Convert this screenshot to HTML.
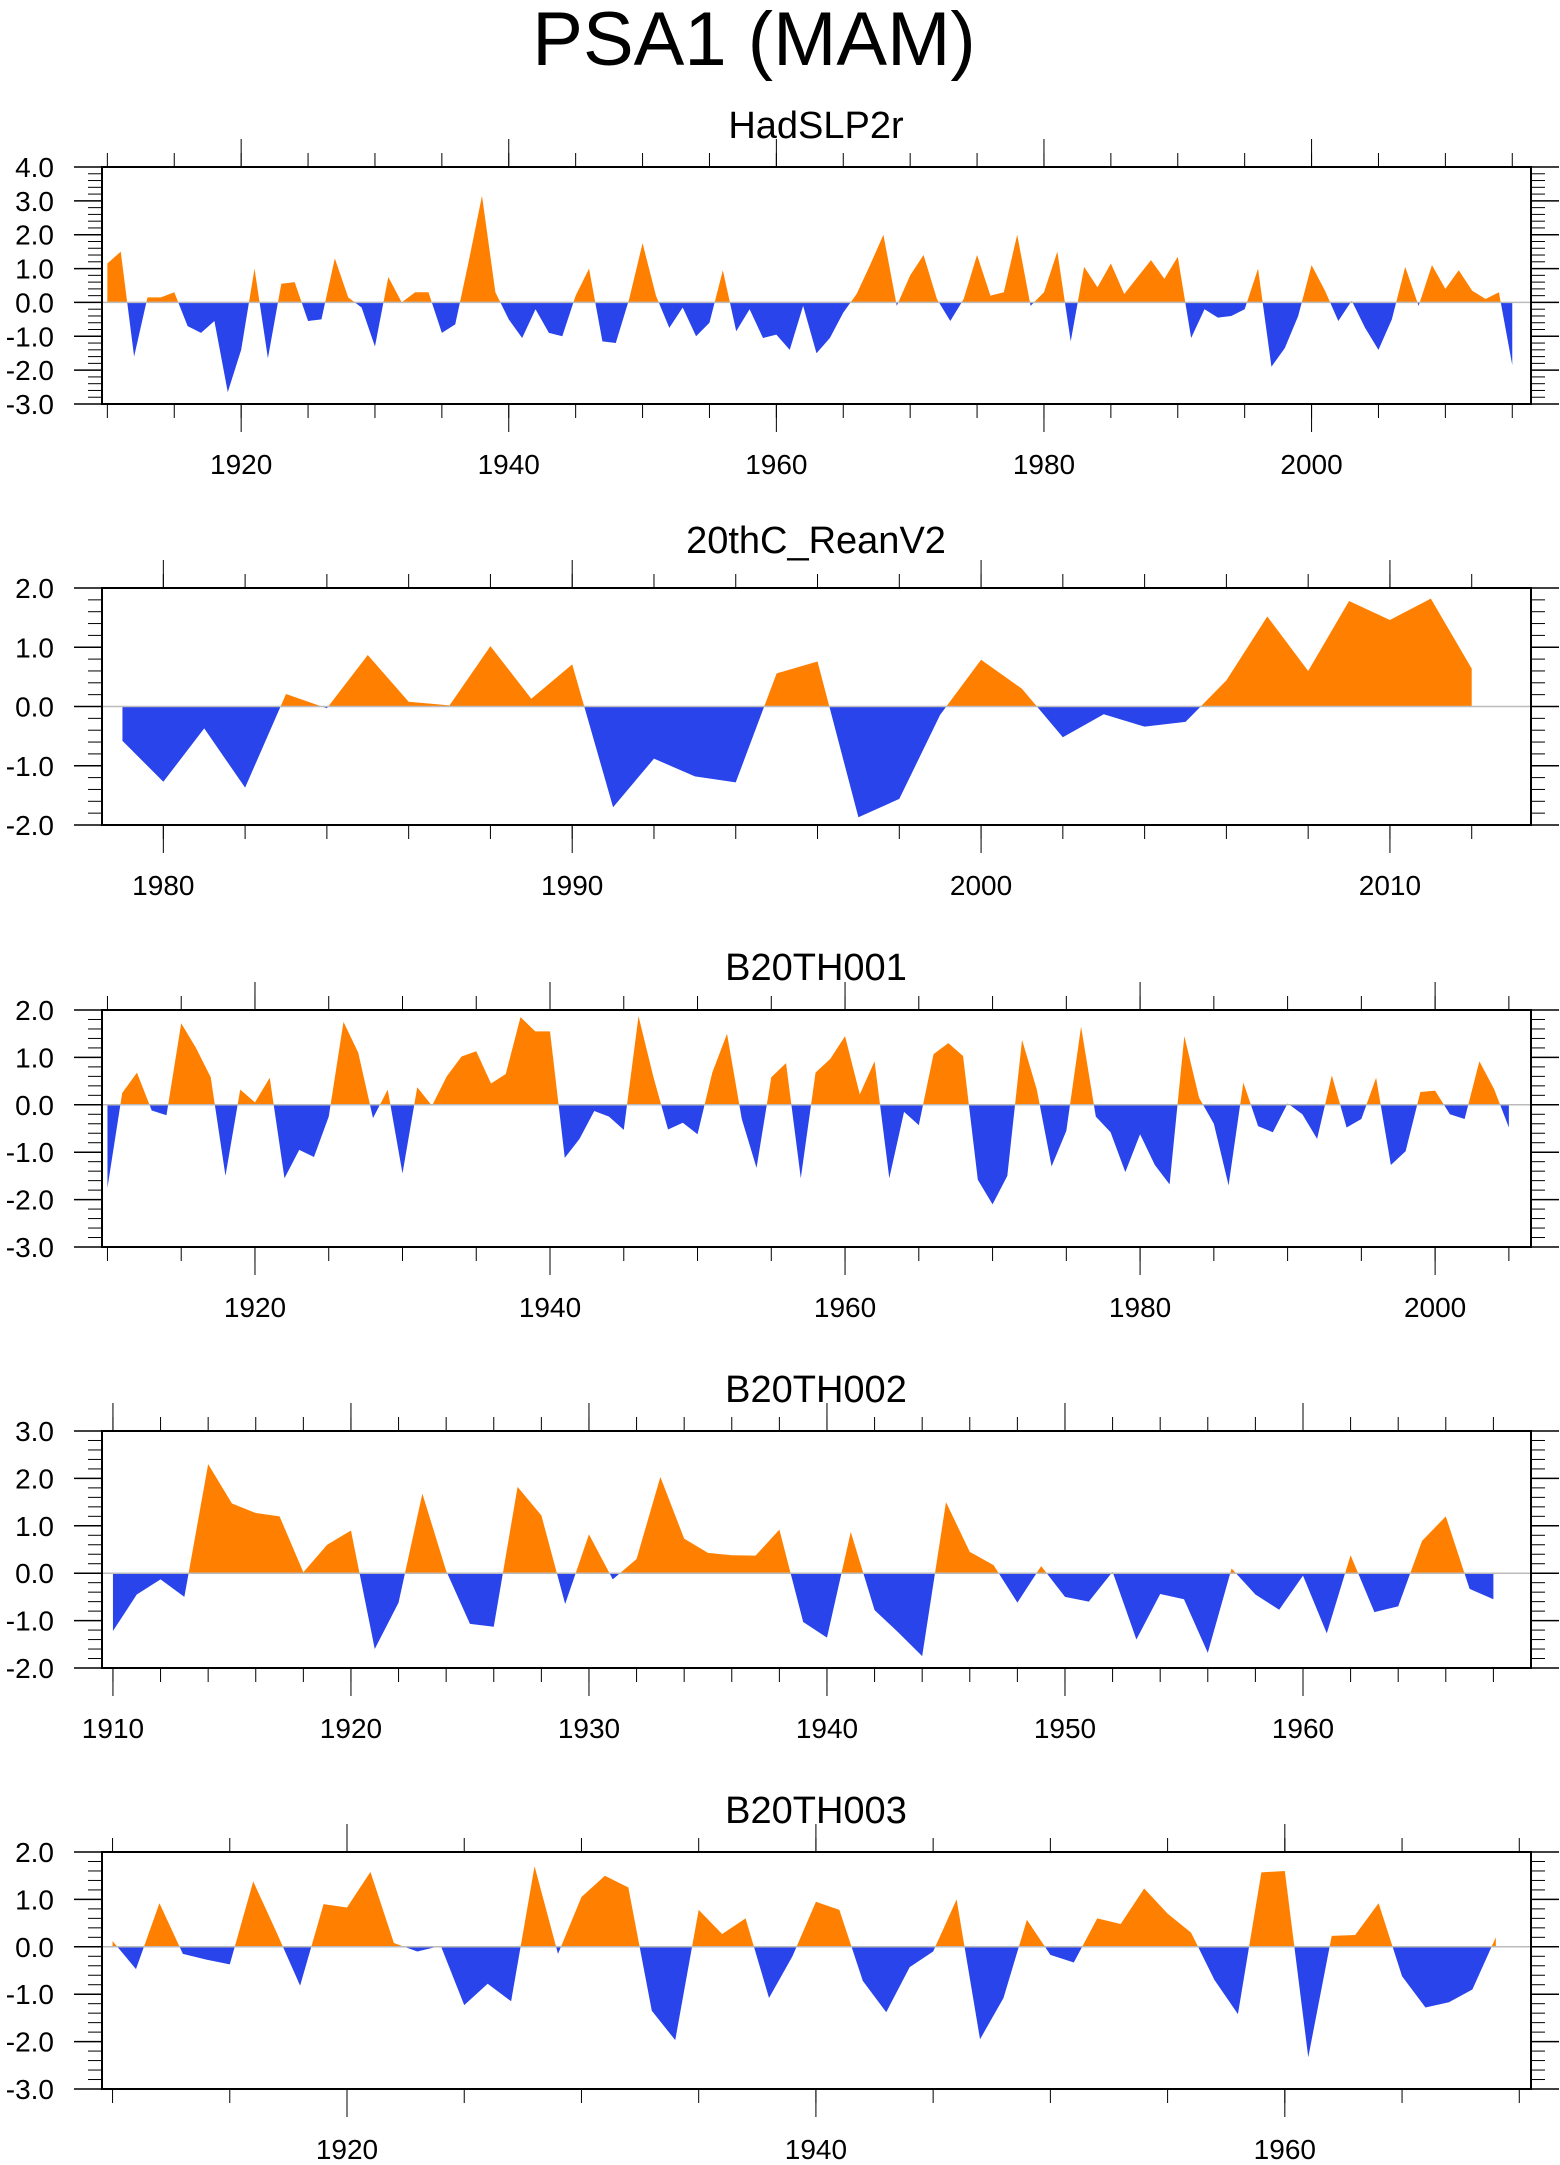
<!DOCTYPE html>
<html><head><meta charset="utf-8"><style>
html,body{margin:0;padding:0;background:#fff;}
svg{display:block;font-family:"Liberation Sans",Arial,sans-serif;}
</style></head><body>
<svg id="chart" width="1560" height="2165" viewBox="0 0 1560 2165" xmlns="http://www.w3.org/2000/svg">
<rect width="1560" height="2165" fill="#fff"/>
<text x="754" y="65" font-size="76" text-anchor="middle">PSA1 (MAM)</text>
</svg>
<script>
const had_years_start = 1910;
const had_vals = [1.15,1.5,-1.6,0.15,0.15,0.3,-0.7,-0.9,-0.55,-2.65,-1.4,1.0,-1.65,0.55,0.6,-0.55,-0.5,1.3,0.15,-0.15,-1.3,0.75,0.0,0.3,0.3,-0.9,-0.65,1.2,3.15,0.3,-0.5,-1.05,-0.2,-0.9,-1.0,0.2,1.0,-1.15,-1.2,0.1,1.75,0.2,-0.75,-0.15,-1.0,-0.6,0.95,-0.85,-0.2,-1.05,-0.95,-1.4,-0.1,-1.5,-1.05,-0.3,0.25,1.1,2.0,-0.1,0.8,1.4,0.1,-0.55,0.1,1.4,0.2,0.3,2.0,-0.1,0.3,1.5,-1.15,1.05,0.45,1.15,0.25,0.75,1.25,0.7,1.35,-1.05,-0.2,-0.45,-0.4,-0.2,1.0,-1.9,-1.35,-0.4,1.1,0.35,-0.55,0.05,-0.75,-1.4,-0.5,1.05,-0.1,1.1,0.4,0.95,0.35,0.1,0.3,-1.85];
const rean_years_start = 1979;
const rean_vals = [-0.58,-1.27,-0.37,-1.37,0.21,-0.03,0.87,0.08,0.02,1.02,0.13,0.71,-1.7,-0.88,-1.18,-1.28,0.56,0.76,-1.87,-1.56,-0.14,0.79,0.3,-0.52,-0.13,-0.34,-0.26,0.44,1.52,0.6,1.78,1.46,1.82,0.64];
const b1_years_start = 1910;
const b1_vals = [-1.75,0.25,0.68,-0.12,-0.22,1.72,1.2,0.58,-1.5,0.32,0.05,0.57,-1.55,-0.95,-1.1,-0.25,1.75,1.1,-0.28,0.32,-1.45,0.37,-0.02,0.6,1.02,1.13,0.45,0.65,1.85,1.55,1.55,-1.12,-0.72,-0.13,-0.25,-0.53,1.87,0.6,-0.52,-0.38,-0.62,0.68,1.5,-0.3,-1.33,0.58,0.88,-1.55,0.68,0.97,1.45,0.22,0.92,-1.55,-0.15,-0.43,1.07,1.3,1.03,-1.58,-2.1,-1.5,1.37,0.32,-1.3,-0.55,1.65,-0.25,-0.58,-1.42,-0.62,-1.27,-1.68,1.45,0.15,-0.4,-1.7,0.47,-0.45,-0.58,0.03,-0.2,-0.72,0.62,-0.48,-0.3,0.57,-1.27,-0.98,0.27,0.3,-0.2,-0.3,0.92,0.33,-0.48];
const b2_years_start = 1910;
const b2_vals = [-1.22,-0.45,-0.13,-0.5,2.3,1.47,1.27,1.2,0.02,0.6,0.9,-1.6,-0.62,1.68,0.05,-1.07,-1.13,1.82,1.22,-0.65,0.82,-0.13,0.3,2.03,0.73,0.43,0.38,0.37,0.92,-1.03,-1.36,0.87,-0.78,-1.25,-1.75,1.5,0.45,0.17,-0.62,0.15,-0.5,-0.6,0.03,-1.4,-0.44,-0.55,-1.68,0.1,-0.45,-0.77,-0.05,-1.27,0.38,-0.82,-0.7,0.68,1.2,-0.33,-0.55];
const b3_years_start = 1910;
const b3_vals = [0.12,-0.47,0.92,-0.15,-0.27,-0.37,1.38,0.3,-0.82,0.9,0.83,1.58,0.08,-0.1,0.02,-1.23,-0.78,-1.15,1.7,-0.15,1.05,1.5,1.25,-1.35,-1.97,0.78,0.27,0.6,-1.08,-0.2,0.95,0.78,-0.72,-1.38,-0.43,-0.1,1.0,-1.95,-1.08,0.57,-0.17,-0.33,0.6,0.48,1.23,0.7,0.3,-0.7,-1.42,1.57,1.6,-2.33,0.23,0.25,0.92,-0.62,-1.28,-1.17,-0.9,0.2];

const svg = document.getElementById('chart');
const NS = 'http://www.w3.org/2000/svg';
function mk(tag, attrs){const e=document.createElementNS(NS,tag);for(const k in attrs)e.setAttribute(k,attrs[k]);return e;}

const panels = [
 {name:'hadslp2r',title:'HadSLP2r',start:had_years_start,vals:had_vals,top:167,bot:404,titleY:138,x0:1909.6,x1:2016.4,ymin:-3,ymax:4,major:[1920,1940,1960,1980,2000],minorStep:5,minorFrom:1910,minorTo:2015},
 {name:'20thc-reanv2',title:'20thC_ReanV2',start:rean_years_start,vals:rean_vals,top:588,bot:825,titleY:553,x0:1978.5,x1:2013.45,ymin:-2,ymax:2,major:[1980,1990,2000,2010],minorStep:2,minorFrom:1980,minorTo:2012},
 {name:'b20th001',title:'B20TH001',start:b1_years_start,vals:b1_vals,top:1010,bot:1247,titleY:980,x0:1909.63,x1:2006.5,ymin:-3,ymax:2,major:[1920,1940,1960,1980,2000],minorStep:5,minorFrom:1910,minorTo:2005},
 {name:'b20th002',title:'B20TH002',start:b2_years_start,vals:b2_vals,top:1431,bot:1668,titleY:1402,x0:1909.54,x1:1969.58,ymin:-2,ymax:3,major:[1910,1920,1930,1940,1950,1960],minorStep:2,minorFrom:1910,minorTo:1968},
 {name:'b20th003',title:'B20TH003',start:b3_years_start,vals:b3_vals,top:1852,bot:2089,titleY:1823,x0:1909.55,x1:1970.5,ymin:-3,ymax:2,major:[1920,1940,1960],minorStep:5,minorFrom:1910,minorTo:1970}
];
const L=102,R=1531;
panels.forEach((p,pi)=>{
  const g=mk('g',{});
  
  
  svg.appendChild(g);
  const xs=y=>L+(y-p.x0)/(p.x1-p.x0)*(R-L);
  const ys=v=>p.bot-(v-p.ymin)/(p.ymax-p.ymin)*(p.bot-p.top);
  const t=mk('text',{x:816,y:p.titleY,'font-size':38,'text-anchor':'middle'});
  t.textContent=p.title;
  
  
  g.appendChild(t);
  const y0=ys(0);
  let pts=`${xs(p.start)},${y0} `;
  p.vals.forEach((v,i)=>{pts+=`${xs(p.start+i)},${ys(v)} `;});
  pts+=`${xs(p.start+p.vals.length-1)},${y0}`;
  const defs=mk('defs',{});
  const cu=mk('clipPath',{id:'cu'+pi});cu.appendChild(mk('rect',{x:L,y:p.top,width:R-L,height:y0-p.top}));
  const cd=mk('clipPath',{id:'cd'+pi});cd.appendChild(mk('rect',{x:L,y:y0,width:R-L,height:p.bot-y0}));
  defs.appendChild(cu);defs.appendChild(cd);g.appendChild(defs);
  const pos=mk('polygon',{points:pts,fill:'#ff8000','clip-path':`url(#cu${pi})`});
  
  
  g.appendChild(pos);
  const neg=mk('polygon',{points:pts,fill:'#2a44ec','clip-path':`url(#cd${pi})`});
  
  
  g.appendChild(neg);
  const zl=mk('line',{x1:L,x2:R,y1:y0,y2:y0,stroke:'#bbb','stroke-width':1.5});
  
  
  g.appendChild(zl);
  const fr=mk('rect',{x:L,y:p.top,width:R-L,height:p.bot-p.top,fill:'none',stroke:'#000','stroke-width':2});
  
  
  g.appendChild(fr);
  for(let yr=p.minorFrom;yr<=p.minorTo+0.001;yr+=p.minorStep){
    const x=xs(yr);
    g.appendChild(mk('line',{x1:x,x2:x,y1:p.top,y2:p.top-14,stroke:'#000','stroke-width':1}));
    g.appendChild(mk('line',{x1:x,x2:x,y1:p.bot,y2:p.bot+14,stroke:'#000','stroke-width':1}));
  }
  p.major.forEach(yr=>{
    const x=xs(yr);
    g.appendChild(mk('line',{x1:x,x2:x,y1:p.top,y2:p.top-28,stroke:'#000','stroke-width':1}));
    g.appendChild(mk('line',{x1:x,x2:x,y1:p.bot,y2:p.bot+28,stroke:'#000','stroke-width':1}));
    const lb=mk('text',{x:x,y:p.bot+70,'font-size':28,'text-anchor':'middle'});
    lb.textContent=yr;
    
    
    g.appendChild(lb);
  });
  for(let k=0;k<=Math.round((p.ymax-p.ymin)*5);k++){
    const v=p.ymin+k*0.2, y=ys(v);
    const maj=(k%5===0);
    const len=maj?28:14;
    g.appendChild(mk('line',{x1:L-len,x2:L,y1:y,y2:y,stroke:'#000','stroke-width':maj?1.5:1}));
    g.appendChild(mk('line',{x1:R,x2:R+len,y1:y,y2:y,stroke:'#000','stroke-width':maj?1.5:1}));
    if(maj){
      const lb=mk('text',{x:54,y:y+10,'font-size':28,'text-anchor':'end'});
      lb.textContent=v.toFixed(1);
      
      
      g.appendChild(lb);
    }
  }
});
</script>
</body></html>
